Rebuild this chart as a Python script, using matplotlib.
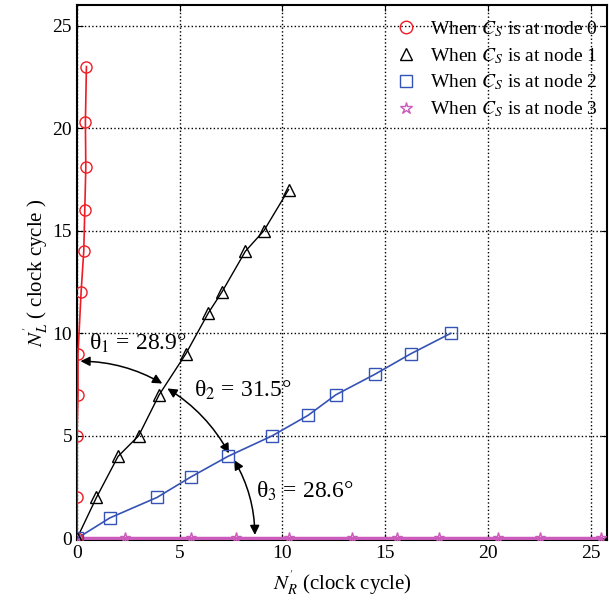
import numpy as np
import matplotlib
matplotlib.use('Agg')
import matplotlib.pyplot as plt

plt.rcParams['font.family'] = ['Liberation Serif', 'DejaVu Serif']
plt.rcParams['mathtext.fontset'] = 'stix'

# data
node0_x = [0, 0, 0, 0.05, 0.05, 0.2, 0.33, 0.38, 0.43, 0.41, 0.46]
node0_y = [0, 2, 5, 7, 9, 12, 14, 16, 18.1, 20.3, 23]

node1_x = [0, 0.95, 2.0, 3.0, 4.0, 5.3, 6.4, 7.05, 8.2, 9.1, 10.3]
node1_y = [0, 2, 4, 5, 7, 9, 11, 12, 14, 15, 17]

node2_x = [0, 1.6, 3.9, 5.55, 7.35, 9.5, 11.25, 12.6, 14.5, 16.25, 18.2]
node2_y = [0, 1, 2, 3, 4, 5, 6, 7, 8, 9, 10]

node3_x = [0, 2.35, 5.55, 7.75, 10.3, 13.4, 15.6, 17.6, 20.5, 22.55, 25.5]
node3_y = [0, 0, 0, 0, 0, 0, 0, 0, 0, 0, 0]

labels = [r'When $C_S$ is at node 0', r'When $C_S$ is at node 1',
          r'When $C_S$ is at node 2', r'When $C_S$ is at node 3']

# angle arcs: (start, end, text, text position)
arcs = [((0.17, 8.64), (4.15, 7.55), 'θ$_1$ = 28.9°', (0.6, 9.5)),
        ((4.4, 7.31), (7.4, 4.15), 'θ$_2$ = 31.5°', (5.7, 7.2)),
        ((7.65, 3.82), (8.66, 0.17), 'θ$_3$ = 28.6°', (8.7, 2.3))]

fig = plt.figure(figsize=(6.09, 6.01), dpi=100)
ax = fig.add_axes([0.1264, 0.1007, 0.8703, 0.891])

red = '#ee1c25'
blue = '#3553b5'
mag = '#cc5cbb'

ax.plot(node3_x, node3_y, '-', color=mag, lw=2.5, zorder=3)
ax.plot(node3_x, node3_y, '*', color=mag, mfc='none', ms=8, mew=1.0, zorder=4)
ax.plot(node0_x, node0_y, '-', color=red, lw=1.2, zorder=3)
ax.plot(node0_x, node0_y, 'o', color=red, mfc='none', ms=8, mew=1.0, zorder=4)
ax.plot(node1_x, node1_y, '-', color='black', lw=1.0, zorder=3)
ax.plot(node1_x, node1_y, '^', color='black', mfc='none', ms=9, mew=1.0, zorder=4)
ax.plot(node2_x, node2_y, '-', color=blue, lw=1.2, zorder=3)
ax.plot(node2_x, node2_y, 's', color=blue, mfc='none', ms=8, mew=1.0, zorder=4)

# legend handles show only the markers
h0, = ax.plot([], [], 'o', color=red, mfc='none', ms=9, mew=1.0)
h1, = ax.plot([], [], '^', color='black', mfc='none', ms=9, mew=1.0)
h2, = ax.plot([], [], 's', color=blue, mfc='none', ms=8, mew=1.0)
h3, = ax.plot([], [], '*', color=mag, mfc='none', ms=9, mew=1.0)
ax.legend([h0, h1, h2, h3], labels, loc='upper right', frameon=False,
          fontsize=14, handletextpad=0.6, handlelength=1.2, labelspacing=0.37,
          borderaxespad=0.1, bbox_to_anchor=(1.0, 0.992))

for start, end, txt, pos in arcs:
    ax.annotate('', xy=end, xytext=start,
                arrowprops=dict(arrowstyle='<|-|>', color='black', lw=1.1,
                                shrinkA=0, shrinkB=0, mutation_scale=14,
                                connectionstyle='arc3,rad=-0.13'))
    ax.text(pos[0], pos[1], txt, fontsize=17, va='center', ha='left')

ax.set_xlim(0, 25.8)
ax.set_ylim(-0.1, 26)
ax.set_xticks(np.arange(0, 26, 5))
ax.set_yticks(np.arange(0, 26, 5))
ax.grid(True, color='black', linestyle=':', linewidth=1.0)
ax.tick_params(direction='in', top=True, right=True, labelsize=14, length=4)
for s in ax.spines.values():
    s.set_linewidth(1.5)

ax.set_xlabel(r"$N_R^{'}$ (clock cycle)", fontsize=15, labelpad=4)
ax.set_ylabel(r"$N_L^{'}$ ( clock cycle )", fontsize=15, labelpad=2)

fig.savefig('out.png', dpi=100)
